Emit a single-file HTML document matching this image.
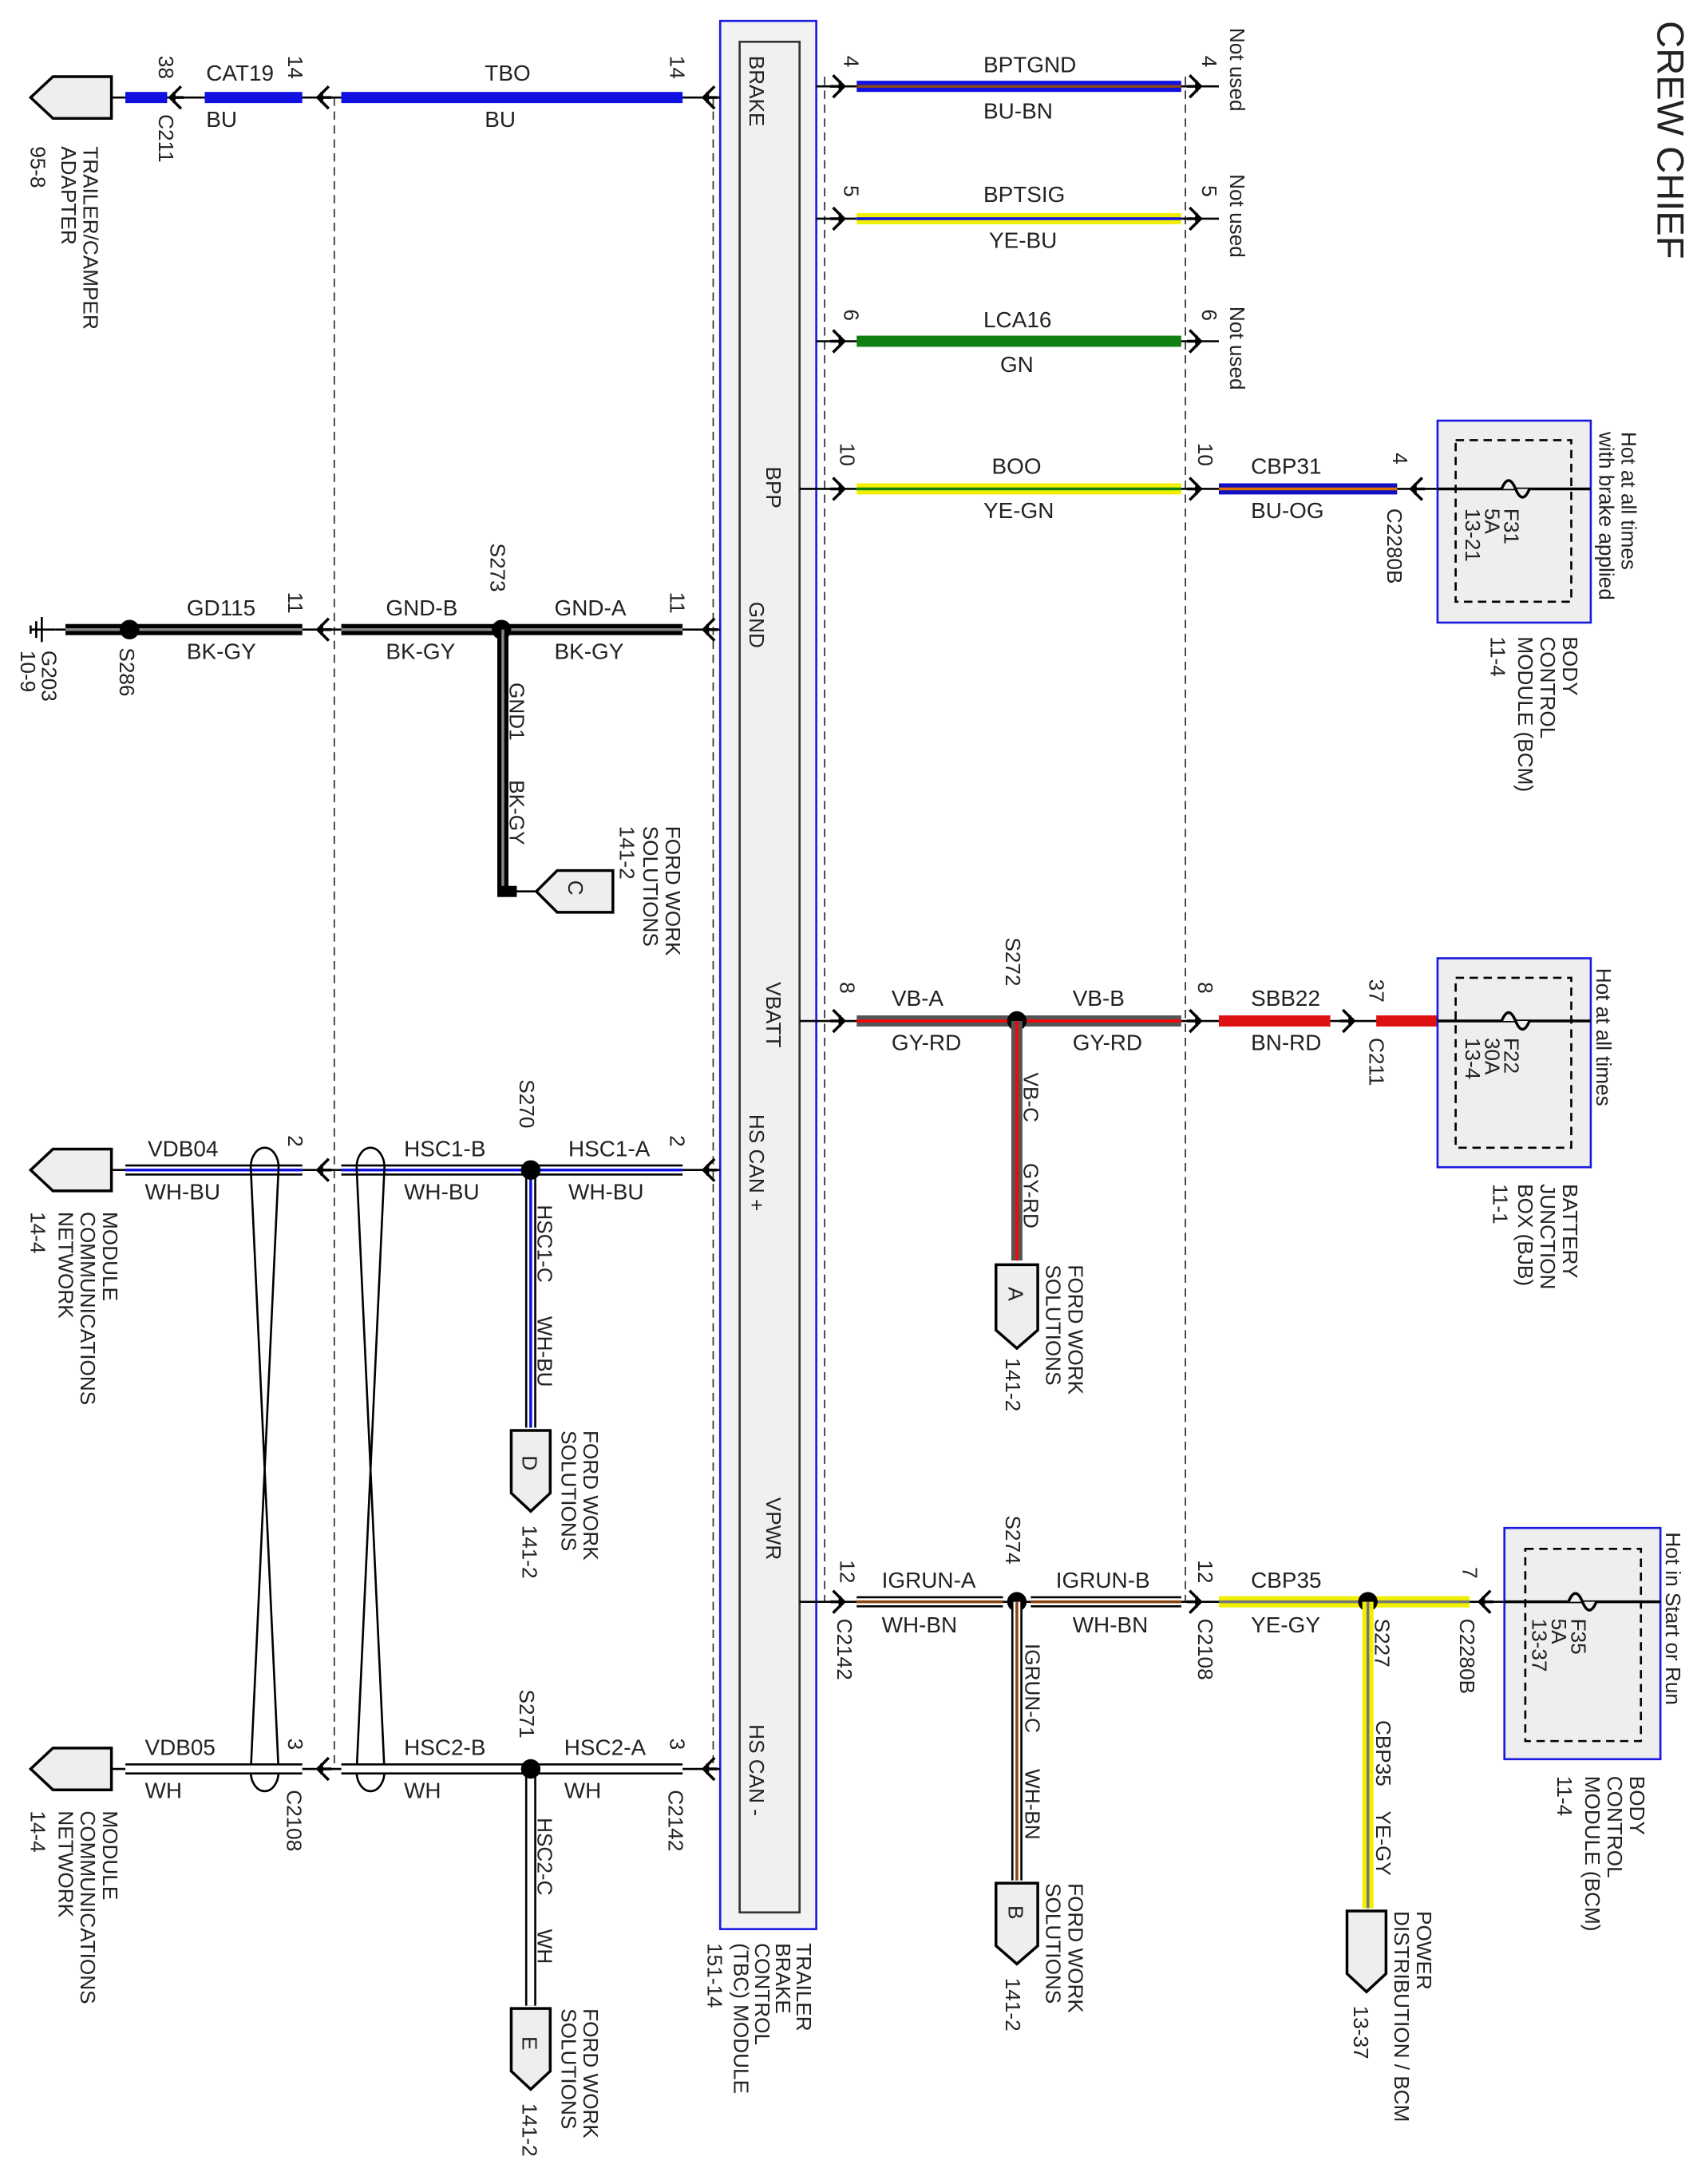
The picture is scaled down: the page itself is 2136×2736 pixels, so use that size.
<!DOCTYPE html>
<html><head><meta charset="utf-8"><style>
html,body{margin:0;padding:0;background:#fff}
svg{display:block}
text{font-family:"Liberation Sans",sans-serif;fill:#222}
.h{font-size:16px}
.r{font-size:15px}
.big{font-size:27px}
.dash{stroke:#333;stroke-width:1;stroke-dasharray:6 4;fill:none}
.thin{stroke:#000;stroke-width:1.5;fill:none}
.conn{fill:#eee;stroke:#000;stroke-width:2}
</style></head><body>
<svg width="2136" height="2736" viewBox="0 0 1224 1568" preserveAspectRatio="none" xmlns="http://www.w3.org/2000/svg">
<defs>
<g id="al"><path d="M8,-8 L0,0 L8,8 M0,0 L10,0 M3,-4 L3,4" stroke="#000" stroke-width="2" fill="none"/></g>
<g id="ar"><path d="M-8,-8 L0,0 L-8,8 M0,0 L-10,0 M-3,-4 L-3,4" stroke="#000" stroke-width="2" fill="none"/></g>
</defs>
<rect width="1224" height="1568" fill="#fff"/>

<!-- title -->
<text class="big" transform="translate(1190 15) rotate(90)">CREW CHIEF</text>

<!-- dashed lines -->
<line class="dash" x1="240" y1="70" x2="240" y2="1270"/>
<line class="dash" x1="512" y1="70" x2="512" y2="1270"/>
<line class="dash" x1="592" y1="55" x2="592" y2="1150"/>
<line class="dash" x1="851" y1="55" x2="851" y2="1150"/>

<!-- module -->
<rect x="517" y="15" width="69" height="1370" fill="#f2f2f2" stroke="#1a1adf" stroke-width="1.5"/>
<rect x="531" y="30" width="43" height="1343" fill="#f0f0f0" stroke="#333" stroke-width="1.5"/>
<text class="r" transform="translate(538 40) rotate(90)">BRAKE</text>
<text class="r" transform="translate(550 335) rotate(90)">BPP</text>
<text class="r" transform="translate(538 432) rotate(90)">GND</text>
<text class="r" transform="translate(550 705) rotate(90)">VBATT</text>
<text class="r" transform="translate(538 800) rotate(90)">HS CAN +</text>
<text class="r" transform="translate(550 1075) rotate(90)">VPWR</text>
<text class="r" transform="translate(538 1238) rotate(90)">HS CAN -</text>
<text class="r" transform="translate(572 1395) rotate(90)">TRAILER</text>
<text class="r" transform="translate(557 1395) rotate(90)">BRAKE</text>
<text class="r" transform="translate(542 1395) rotate(90)">CONTROL</text>
<text class="r" transform="translate(527 1395) rotate(90)">(TBC) MODULE</text>
<text class="r" transform="translate(508 1395) rotate(90)">151-14</text>

<!-- ROW BRAKE left y=70 -->
<path class="conn" d="M22,70 L38,55 L80,55 L80,85 L38,85 Z"/>
<line class="thin" x1="80" y1="70" x2="517" y2="70"/>
<rect x="90" y="66" width="30" height="8" fill="#1010e0"/>
<rect x="147" y="66" width="70" height="8" fill="#1010e0"/>
<rect x="245" y="66" width="245" height="8" fill="#1010e0"/>
<use href="#al" x="122" y="70"/><use href="#al" x="228" y="70"/><use href="#al" x="505" y="70"/>
<text class="r" transform="translate(114 40) rotate(90)">38</text>
<text class="r" transform="translate(114 82) rotate(90)">C211</text>
<text class="h" x="148" y="58">CAT19</text><text class="h" x="148" y="91">BU</text>
<text class="r" transform="translate(207 40) rotate(90)">14</text>
<text class="h" x="348" y="58">TBO</text><text class="h" x="348" y="91">BU</text>
<text class="r" transform="translate(481 40) rotate(90)">14</text>
<text class="r" transform="translate(60 105) rotate(90)">TRAILER/CAMPER</text>
<text class="r" transform="translate(44 105) rotate(90)">ADAPTER</text>
<text class="r" transform="translate(22 105) rotate(90)">95-8</text>

<!-- ROW GND y=452 -->
<path d="M22,452 L40,452 M30,443 L30,461 M26,446 L26,458 M22,449 L22,455" stroke="#000" stroke-width="1.5"/>
<line class="thin" x1="40" y1="452" x2="517" y2="452"/>
<rect x="47" y="448" width="170" height="8" fill="#000"/><rect x="47" y="451" width="170" height="2" fill="#888"/>
<rect x="245" y="448" width="245" height="8" fill="#000"/><rect x="245" y="451" width="245" height="2" fill="#888"/>
<circle cx="93" cy="452" r="7" fill="#000"/><circle cx="360" cy="452" r="7" fill="#000"/>
<use href="#al" x="228" y="452"/><use href="#al" x="505" y="452"/>
<rect x="357" y="452" width="8" height="188" fill="#000"/><rect x="360" y="452" width="2" height="185" fill="#888"/>
<line class="thin" x1="361" y1="640" x2="385" y2="640"/><rect x="357" y="636" width="14" height="8" fill="#000"/>
<path class="conn" d="M385,640 L400,625 L440,625 L440,655 L400,655 Z"/>
<text class="r" transform="translate(408 632) rotate(90)">C</text>
<text class="r" transform="translate(30 467) rotate(90)">G203</text>
<text class="r" transform="translate(15 467) rotate(90)">10-9</text>
<text class="r" transform="translate(86 465) rotate(90)">S286</text>
<text class="h" x="134" y="442">GD115</text><text class="h" x="134" y="473">BK-GY</text>
<text class="r" transform="translate(207 425) rotate(90)">11</text>
<text class="h" x="277" y="442">GND-B</text><text class="h" x="277" y="473">BK-GY</text>
<text class="r" transform="translate(352 390) rotate(90)">S273</text>
<text class="h" x="398" y="442">GND-A</text><text class="h" x="398" y="473">BK-GY</text>
<text class="r" transform="translate(481 425) rotate(90)">11</text>
<text class="r" transform="translate(366 490) rotate(90)">GND1</text>
<text class="r" transform="translate(366 560) rotate(90)">BK-GY</text>
<text class="r" transform="translate(478 593) rotate(90)">FORD WORK</text>
<text class="r" transform="translate(462 593) rotate(90)">SOLUTIONS</text>
<text class="r" transform="translate(445 593) rotate(90)">141-2</text>

<!-- RIGHT rows -->
<!-- 4 BPTGND -->
<line class="thin" x1="586" y1="62" x2="875" y2="62"/>
<rect x="615" y="58" width="233" height="8" fill="#1010e0"/><rect x="615" y="61" width="233" height="2" fill="#8b4513"/>
<use href="#ar" x="606" y="62"/><use href="#ar" x="862" y="62"/>
<text class="r" transform="translate(606 40) rotate(90)">4</text><text class="r" transform="translate(863 40) rotate(90)">4</text>
<text class="h" x="706" y="52">BPTGND</text><text class="h" x="706" y="85">BU-BN</text>
<text class="r" transform="translate(883 20) rotate(90)">Not used</text>
<!-- 5 -->
<line class="thin" x1="586" y1="157" x2="875" y2="157"/>
<rect x="615" y="153" width="233" height="8" fill="#f0f000"/><rect x="615" y="156" width="233" height="2" fill="#1010e0"/>
<use href="#ar" x="606" y="157"/><use href="#ar" x="862" y="157"/>
<text class="r" transform="translate(606 133) rotate(90)">5</text><text class="r" transform="translate(863 133) rotate(90)">5</text>
<text class="h" x="706" y="145">BPTSIG</text><text class="h" x="710" y="178">YE-BU</text>
<text class="r" transform="translate(883 125) rotate(90)">Not used</text>
<!-- 6 -->
<line class="thin" x1="586" y1="245" x2="875" y2="245"/>
<rect x="615" y="241" width="233" height="8" fill="#108010"/>
<use href="#ar" x="606" y="245"/><use href="#ar" x="862" y="245"/>
<text class="r" transform="translate(606 222) rotate(90)">6</text><text class="r" transform="translate(863 222) rotate(90)">6</text>
<text class="h" x="706" y="235">LCA16</text><text class="h" x="718" y="267">GN</text>
<text class="r" transform="translate(883 220) rotate(90)">Not used</text>
<!-- 10 BOO -->
<line class="thin" x1="574" y1="351" x2="1142" y2="351"/>
<rect x="615" y="347" width="233" height="8" fill="#f0f000"/><rect x="615" y="350" width="233" height="2" fill="#108010"/>
<rect x="875" y="347" width="128" height="8" fill="#1010c0"/><rect x="875" y="350" width="128" height="2" fill="#e07000"/>
<use href="#ar" x="606" y="351"/><use href="#ar" x="862" y="351"/><use href="#al" x="1013" y="351"/>
<text class="r" transform="translate(603 318) rotate(90)">10</text><text class="r" transform="translate(860 318) rotate(90)">10</text>
<text class="h" x="712" y="340">BOO</text><text class="h" x="706" y="372">YE-GN</text>
<text class="h" x="898" y="340">CBP31</text><text class="h" x="898" y="372">BU-OG</text>
<text class="r" transform="translate(1000 325) rotate(90)">4</text>
<text class="r" transform="translate(996 365) rotate(90)">C2280B</text>
<rect x="1032" y="302" width="110" height="145" fill="#eee" stroke="#1a1adf" stroke-width="1.5"/>
<rect x="1045" y="316" width="83" height="116" fill="none" stroke="#000" stroke-width="1.5" stroke-dasharray="6 4"/>
<line x1="1032" y1="351" x2="1142" y2="351" stroke="#000" stroke-width="2"/>
<path d="M1078,351 q5,-12 10,0 t10,0" stroke="#000" stroke-width="2" fill="#eee"/>
<text class="r" transform="translate(1080 365) rotate(90)">F31</text>
<text class="r" transform="translate(1066 365) rotate(90)">5A</text>
<text class="r" transform="translate(1052 365) rotate(90)">13-21</text>
<text class="r" transform="translate(1164 310) rotate(90)">Hot at all times</text>
<text class="r" transform="translate(1148 310) rotate(90)">with brake applied</text>
<text class="r" transform="translate(1122 457) rotate(90)">BODY</text>
<text class="r" transform="translate(1106 457) rotate(90)">CONTROL</text>
<text class="r" transform="translate(1090 457) rotate(90)">MODULE (BCM)</text>
<text class="r" transform="translate(1070 457) rotate(90)">11-4</text>

<!-- VBATT y=733 -->
<line class="thin" x1="574" y1="733" x2="1142" y2="733"/>
<rect x="615" y="729" width="233" height="8" fill="#555"/><rect x="615" y="732" width="233" height="2" fill="#f00"/>
<rect x="875" y="729" width="80" height="8" fill="#dd1111"/><rect x="988" y="729" width="44" height="8" fill="#dd1111"/>
<circle cx="730" cy="733" r="7" fill="#000"/>
<use href="#ar" x="606" y="733"/><use href="#ar" x="862" y="733"/><use href="#ar" x="972" y="733"/>
<rect x="726" y="733" width="8" height="172" fill="#555"/><rect x="729" y="733" width="2" height="172" fill="#f00"/>
<path class="conn" d="M715,908 L745,908 L745,955 L730,968 L715,955 Z"/>
<text class="r" transform="translate(724 924) rotate(90)">A</text>
<text class="r" transform="translate(603 705) rotate(90)">8</text><text class="r" transform="translate(860 705) rotate(90)">8</text>
<text class="h" x="640" y="722">VB-A</text><text class="h" x="640" y="754">GY-RD</text>
<text class="r" transform="translate(722 673) rotate(90)">S272</text>
<text class="h" x="770" y="722">VB-B</text><text class="h" x="770" y="754">GY-RD</text>
<text class="h" x="898" y="722">SBB22</text><text class="h" x="898" y="754">BN-RD</text>
<text class="r" transform="translate(983 703) rotate(90)">37</text>
<text class="r" transform="translate(983 745) rotate(90)">C211</text>
<text class="r" transform="translate(735 770) rotate(90)">VB-C</text>
<text class="r" transform="translate(735 835) rotate(90)">GY-RD</text>
<text class="r" transform="translate(767 908) rotate(90)">FORD WORK</text>
<text class="r" transform="translate(751 908) rotate(90)">SOLUTIONS</text>
<text class="r" transform="translate(722 975) rotate(90)">141-2</text>
<rect x="1032" y="688" width="110" height="150" fill="#eee" stroke="#1a1adf" stroke-width="1.5"/>
<rect x="1045" y="702" width="83" height="122" fill="none" stroke="#000" stroke-width="1.5" stroke-dasharray="6 4"/>
<line x1="1032" y1="733" x2="1142" y2="733" stroke="#000" stroke-width="2"/>
<path d="M1078,733 q5,-12 10,0 t10,0" stroke="#000" stroke-width="2" fill="#eee"/>
<text class="r" transform="translate(1080 745) rotate(90)">F22</text>
<text class="r" transform="translate(1066 745) rotate(90)">30A</text>
<text class="r" transform="translate(1052 745) rotate(90)">13-4</text>
<text class="r" transform="translate(1146 695) rotate(90)">Hot at all times</text>
<text class="r" transform="translate(1122 850) rotate(90)">BATTERY</text>
<text class="r" transform="translate(1106 850) rotate(90)">JUNCTION</text>
<text class="r" transform="translate(1090 850) rotate(90)">BOX (BJB)</text>
<text class="r" transform="translate(1072 850) rotate(90)">11-1</text>

<!-- HS CAN + y=840 -->
<path class="conn" d="M22,840 L38,825 L80,825 L80,855 L38,855 Z"/>
<line class="thin" x1="80" y1="840" x2="517" y2="840"/>
<g>
<rect x="90" y="836" width="127" height="8" fill="#000"/><rect x="90" y="837.5" width="127" height="5" fill="#fff"/><rect x="90" y="839" width="127" height="2" fill="#1010e0"/>
<rect x="245" y="836" width="245" height="8" fill="#000"/><rect x="245" y="837.5" width="245" height="5" fill="#fff"/><rect x="245" y="839" width="245" height="2" fill="#1010e0"/>
<rect x="377" y="840" width="8" height="185" fill="#000"/><rect x="378.5" y="840" width="5" height="185" fill="#fff"/><rect x="380" y="840" width="2" height="185" fill="#1010e0"/>
</g>
<circle cx="381" cy="840" r="7" fill="#000"/>
<use href="#al" x="228" y="840"/><use href="#al" x="505" y="840"/>
<path class="conn" d="M367,1027 L395,1027 L395,1072 L381,1085 L367,1072 Z"/>
<text class="r" transform="translate(375 1045) rotate(90)">D</text>
<text class="h" x="106" y="830">VDB04</text><text class="h" x="104" y="861">WH-BU</text>
<text class="r" transform="translate(207 815) rotate(90)">2</text>
<text class="h" x="290" y="830">HSC1-B</text><text class="h" x="290" y="861">WH-BU</text>
<text class="r" transform="translate(373 775) rotate(90)">S270</text>
<text class="h" x="408" y="830">HSC1-A</text><text class="h" x="408" y="861">WH-BU</text>
<text class="r" transform="translate(481 815) rotate(90)">2</text>
<text class="r" transform="translate(386 865) rotate(90)">HSC1-C</text>
<text class="r" transform="translate(386 945) rotate(90)">WH-BU</text>
<text class="r" transform="translate(419 1027) rotate(90)">FORD WORK</text>
<text class="r" transform="translate(403 1027) rotate(90)">SOLUTIONS</text>
<text class="r" transform="translate(375 1095) rotate(90)">141-2</text>
<text class="r" transform="translate(74 870) rotate(90)">MODULE</text>
<text class="r" transform="translate(58 870) rotate(90)">COMMUNICATIONS</text>
<text class="r" transform="translate(42 870) rotate(90)">NETWORK</text>
<text class="r" transform="translate(22 870) rotate(90)">14-4</text>

<!-- twists -->
<path d="M180,838 A10,14 0 0 1 200,838 L180,1272 A10,14 0 0 0 200,1272 Z" fill="none" stroke="#000" stroke-width="1.5"/>
<path d="M256,838 A10,14 0 0 1 276,838 L256,1272 A10,14 0 0 0 276,1272 Z" fill="none" stroke="#000" stroke-width="1.5"/>

<!-- VPWR y=1150 -->
<line class="thin" x1="574" y1="1150" x2="1192" y2="1150"/>
<rect x="615" y="1146" width="105" height="8" fill="#000"/><rect x="615" y="1147.5" width="105" height="5" fill="#fff"/><rect x="615" y="1149" width="105" height="2" fill="#8b4513"/>
<rect x="740" y="1146" width="108" height="8" fill="#000"/><rect x="740" y="1147.5" width="108" height="5" fill="#fff"/><rect x="740" y="1149" width="108" height="2" fill="#8b4513"/>
<rect x="875" y="1146" width="180" height="8" fill="#f0f000"/><rect x="875" y="1149" width="180" height="2" fill="#777"/>
<circle cx="730" cy="1150" r="7" fill="#000"/><circle cx="982" cy="1150" r="7" fill="#000"/>
<use href="#ar" x="606" y="1150"/><use href="#ar" x="862" y="1150"/><use href="#al" x="1062" y="1150"/>
<rect x="726" y="1150" width="8" height="200" fill="#000"/><rect x="727.5" y="1150" width="5" height="200" fill="#fff"/><rect x="729" y="1150" width="2" height="200" fill="#8b4513"/>
<rect x="978" y="1150" width="8" height="220" fill="#f0f000"/><rect x="981" y="1150" width="2" height="220" fill="#777"/>
<path class="conn" d="M715,1352 L745,1352 L745,1397 L730,1410 L715,1397 Z"/>
<text class="r" transform="translate(724 1368) rotate(90)">B</text>
<path class="conn" d="M967,1372 L995,1372 L995,1417 L981,1430 L967,1417 Z"/>
<text class="r" transform="translate(603 1120) rotate(90)">12</text>
<text class="r" transform="translate(601 1162) rotate(90)">C2142</text>
<text class="h" x="633" y="1140">IGRUN-A</text><text class="h" x="633" y="1172">WH-BN</text>
<text class="r" transform="translate(722 1088) rotate(90)">S274</text>
<text class="h" x="758" y="1140">IGRUN-B</text><text class="h" x="770" y="1172">WH-BN</text>
<text class="r" transform="translate(860 1120) rotate(90)">12</text>
<text class="r" transform="translate(860 1162) rotate(90)">C2108</text>
<text class="h" x="898" y="1140">CBP35</text><text class="h" x="898" y="1172">YE-GY</text>
<text class="r" transform="translate(987 1162) rotate(90)">S227</text>
<text class="r" transform="translate(1050 1125) rotate(90)">7</text>
<text class="r" transform="translate(1048 1162) rotate(90)">C2280B</text>
<text class="r" transform="translate(736 1180) rotate(90)">IGRUN-C</text>
<text class="r" transform="translate(736 1270) rotate(90)">WH-BN</text>
<text class="r" transform="translate(767 1352) rotate(90)">FORD WORK</text>
<text class="r" transform="translate(751 1352) rotate(90)">SOLUTIONS</text>
<text class="r" transform="translate(722 1420) rotate(90)">141-2</text>
<text class="r" transform="translate(988 1235) rotate(90)">CBP35</text>
<text class="r" transform="translate(988 1300) rotate(90)">YE-GY</text>
<text class="r" transform="translate(1017 1372) rotate(90)">POWER</text>
<text class="r" transform="translate(1001 1372) rotate(90)">DISTRIBUTION / BCM</text>
<text class="r" transform="translate(972 1440) rotate(90)">13-37</text>
<rect x="1080" y="1097" width="112" height="166" fill="#eee" stroke="#1a1adf" stroke-width="1.5"/>
<rect x="1095" y="1112" width="83" height="138" fill="none" stroke="#000" stroke-width="1.5" stroke-dasharray="6 4"/>
<line x1="1080" y1="1150" x2="1192" y2="1150" stroke="#000" stroke-width="2"/>
<path d="M1126,1150 q5,-12 10,0 t10,0" stroke="#000" stroke-width="2" fill="#eee"/>
<text class="r" transform="translate(1128 1162) rotate(90)">F35</text>
<text class="r" transform="translate(1114 1162) rotate(90)">5A</text>
<text class="r" transform="translate(1100 1162) rotate(90)">13-37</text>
<text class="r" transform="translate(1196 1100) rotate(90)">Hot in Start or Run</text>
<text class="r" transform="translate(1170 1275) rotate(90)">BODY</text>
<text class="r" transform="translate(1154 1275) rotate(90)">CONTROL</text>
<text class="r" transform="translate(1138 1275) rotate(90)">MODULE (BCM)</text>
<text class="r" transform="translate(1118 1275) rotate(90)">11-4</text>

<!-- HS CAN - y=1270 -->
<path class="conn" d="M22,1270 L38,1255 L80,1255 L80,1285 L38,1285 Z"/>
<line class="thin" x1="80" y1="1270" x2="517" y2="1270"/>
<rect x="90" y="1266" width="127" height="8" fill="#000"/><rect x="90" y="1267.5" width="127" height="5" fill="#fff"/>
<rect x="245" y="1266" width="245" height="8" fill="#000"/><rect x="245" y="1267.5" width="245" height="5" fill="#fff"/>
<rect x="377" y="1270" width="8" height="170" fill="#000"/><rect x="378.5" y="1270" width="5" height="170" fill="#fff"/>
<circle cx="381" cy="1270" r="7" fill="#000"/>
<use href="#al" x="228" y="1270"/><use href="#al" x="505" y="1270"/>
<path class="conn" d="M367,1442 L395,1442 L395,1487 L381,1500 L367,1487 Z"/>
<text class="r" transform="translate(375 1462) rotate(90)">E</text>
<text class="h" x="104" y="1260">VDB05</text><text class="h" x="104" y="1291">WH</text>
<text class="r" transform="translate(207 1248) rotate(90)">3</text>
<text class="r" transform="translate(206 1285) rotate(90)">C2108</text>
<text class="h" x="290" y="1260">HSC2-B</text><text class="h" x="290" y="1291">WH</text>
<text class="r" transform="translate(373 1213) rotate(90)">S271</text>
<text class="h" x="405" y="1260">HSC2-A</text><text class="h" x="405" y="1291">WH</text>
<text class="r" transform="translate(481 1248) rotate(90)">3</text>
<text class="r" transform="translate(480 1285) rotate(90)">C2142</text>
<text class="r" transform="translate(386 1305) rotate(90)">HSC2-C</text>
<text class="r" transform="translate(386 1385) rotate(90)">WH</text>
<text class="r" transform="translate(419 1442) rotate(90)">FORD WORK</text>
<text class="r" transform="translate(403 1442) rotate(90)">SOLUTIONS</text>
<text class="r" transform="translate(375 1510) rotate(90)">141-2</text>
<text class="r" transform="translate(74 1300) rotate(90)">MODULE</text>
<text class="r" transform="translate(58 1300) rotate(90)">COMMUNICATIONS</text>
<text class="r" transform="translate(42 1300) rotate(90)">NETWORK</text>
<text class="r" transform="translate(22 1300) rotate(90)">14-4</text>
</svg>
</body></html>
